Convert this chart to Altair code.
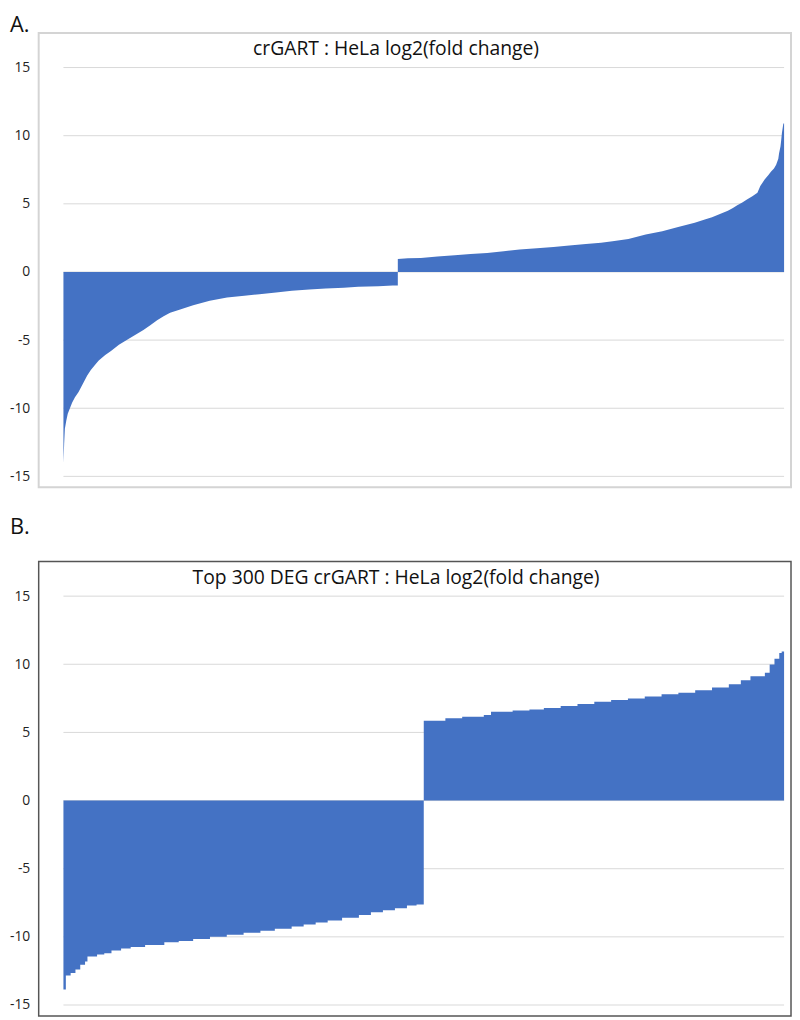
import altair as alt
import pandas as pd

# ---- Panel A: all genes, sorted log2(fold change); rank scaled 0..1000 ----
a_rank = [0, 1, 2, 4, 6, 9, 12, 16, 21, 25, 29, 33, 38, 44, 49, 58, 66, 77, 89, 100,
          111, 121, 130, 139, 148, 162, 180, 203, 227, 251, 272, 295, 317, 341, 364, 389, 409, 437, 457,
          464, 478, 496, 519, 543, 565, 588, 611, 633, 657, 680, 702, 725, 746, 762, 784,
          808, 831, 853, 876, 890, 900, 911, 922, 929, 935, 942, 949, 956, 963, 967, 973,
          978, 982, 986, 989, 992, 993, 995, 996, 997, 999]
a_val = [-14.0, -12.6, -11.5, -10.9, -10.4, -10.0, -9.6, -9.2, -8.8, -8.4, -8.0, -7.6, -7.2, -6.8,
         -6.5, -6.1, -5.8, -5.35, -4.95, -4.6, -4.25, -3.9, -3.55, -3.25, -3.0, -2.75, -2.45, -2.12,
         -1.88, -1.75, -1.63, -1.5, -1.38, -1.29, -1.21, -1.15, -1.09, -1.04, -1.0,
         0.95, 1.0, 1.03, 1.13, 1.23, 1.31, 1.40, 1.52, 1.64, 1.74, 1.84, 1.95, 2.06, 2.15, 2.25, 2.42,
         2.74, 2.98, 3.29, 3.61, 3.85, 4.01, 4.25, 4.50, 4.7, 4.9, 5.1, 5.34, 5.55, 5.82, 6.3, 6.78,
         7.1, 7.38, 7.6, 7.86, 8.3, 8.7, 9.2, 9.66, 10.2, 10.9]
a_total = 1000
a_split = 464  # first up-regulated rank

# ---- Panel B: top 300 DEG ----
b_rank = [0, 1, 3, 5, 7, 9, 10, 14, 17, 20, 24, 28, 34, 42, 48, 54, 61, 68, 75, 82, 88, 95,
          100, 105, 110, 116, 123, 128, 133, 138, 143, 147,
          150, 159, 166, 175, 178, 187, 194, 200, 207, 214, 221, 228, 235, 242, 249, 256, 263,
          270, 277, 282, 286, 292, 294, 296, 298, 299]
b_val = [-13.86, -12.84, -12.65, -12.4, -12.05, -11.8, -11.45, -11.3, -11.2, -11.0, -10.85, -10.75,
         -10.6, -10.4, -10.3, -10.15, -10.0, -9.85, -9.7, -9.55, -9.4, -9.25, -9.1, -8.95, -8.8,
         -8.6, -8.4, -8.2, -8.05, -7.9, -7.7, -7.62,
         5.85, 6.04, 6.15, 6.28, 6.52, 6.6, 6.69, 6.8, 6.93, 7.08, 7.25, 7.37, 7.49, 7.63, 7.80,
         7.92, 8.09, 8.29, 8.53, 8.82, 9.13, 9.37, 9.98, 10.41, 10.82, 10.94]
b_total = 300
b_split = 150

tick_vals = [-15, -10, -5, 0, 5, 10, 15]

FONT = "Open Sans"
BLUE = "#4472C4"


def build_table(ranks, vals, split, total):
    rows = []
    neg = [(r, v) for r, v in zip(ranks, vals) if r < split]
    pos = [(r, v) for r, v in zip(ranks, vals) if r >= split]
    for side, pts, end in (("down", neg, split), ("up", pos, total)):
        for r, v in pts:
            rows.append({"rank": r, "value": v, "side": side, "base": 0.0})
        rows.append({"rank": end, "value": pts[-1][1], "side": side, "base": 0.0})
    return pd.DataFrame(rows)


def panel(ranks, vals, split, total, interp, title_text, title_y, label, frame_color,
          frame_width, title_offset):
    df = build_table(ranks, vals, split, total)
    grid_df = pd.DataFrame({"value": tick_vals,
                            "rank": [0] * len(tick_vals),
                            "rank_end": [total] * len(tick_vals)})
    px_per = 728.0 / total
    xscale = alt.Scale(domain=[-25.0 / px_per, total + 7.0 / px_per], nice=False, zero=False)
    yscale = alt.Scale(domain=[-15.8, 17.54], nice=False, zero=False)
    yaxis = alt.Axis(values=tick_vals, grid=False, ticks=False, domain=False,
                     labelPadding=9, labelFontSize=14, labelFont=FONT,
                     labelColor="#222", title=None, labelExpr="'' + datum.value")

    grid = alt.Chart(grid_df).mark_rule(color="#d9d9d9", strokeWidth=1).encode(
        x=alt.X("rank:Q", scale=xscale, axis=None),
        x2="rank_end:Q",
        y=alt.Y("value:Q", scale=yscale, axis=yaxis),
    )
    area = alt.Chart(df).mark_area(interpolate=interp, color=BLUE, opacity=1).encode(
        x=alt.X("rank:Q", scale=xscale, axis=None),
        y=alt.Y("value:Q", scale=yscale, axis=yaxis),
        y2="base:Q",
        detail="side:N",
    )
    txt = alt.Chart(pd.DataFrame({"t": [title_text]})).mark_text(
        font=FONT, fontSize=19.5, color="#111", baseline="alphabetic", align="center"
    ).encode(text="t:N", x=alt.value(361), y=alt.value(title_y))

    return alt.layer(grid, area, txt).properties(
        width=760, height=459,
        view=alt.ViewBackground(stroke=frame_color, strokeWidth=frame_width, fill="white"),
        title=alt.TitleParams(label, anchor="start", frame="group", dx=-29,
                              fontSize=22, font=FONT, fontWeight="normal",
                              color="#111", offset=title_offset),
    )


pa = panel(a_rank, a_val, a_split, a_total, "linear",
           "crGART : HeLa log2(fold change)", 22, "A.", "#d4d4d4", 2, -4)
pb = panel(b_rank, b_val, b_split, b_total, "step-after",
           "Top 300 DEG crGART : HeLa log2(fold change)", 23, "B.", "#555555", 1.5, 23)

chart = alt.vconcat(pa, pb, spacing=27).properties(
    padding={"left": 0, "top": 0, "right": 0, "bottom": 0}
).configure(background="white")

chart.save("out.html", embed_options={"renderer": "svg", "actions": False})
